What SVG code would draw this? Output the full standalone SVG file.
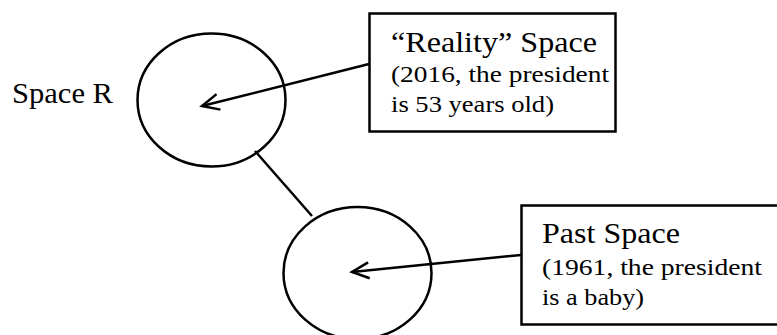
<svg xmlns="http://www.w3.org/2000/svg" width="777" height="335" viewBox="0 0 777 335">
<defs>
<style>
.shape{fill:none;stroke:#000;stroke-width:2.5}
.box{fill:#fff;stroke:#000;stroke-width:2.5}
.conn{fill:none;stroke:#000;stroke-width:2.5}
text{font-family:"Liberation Serif","DejaVu Serif","Times New Roman",serif;fill:#000}
.h{font-size:30px}
.s{font-size:24px}
</style>
<marker id="arr" refX="0" refY="0" markerWidth="20" markerHeight="20" markerUnits="userSpaceOnUse" orient="auto" overflow="visible">
<path d="M-17,-8 L0,0 L-17,8" fill="none" stroke="#000" stroke-width="2.5"/>
</marker>
</defs>
<rect width="777" height="335" fill="#fff"/>
<g id="spaceR-label"><text class="h" x="12" y="103" textLength="101" lengthAdjust="spacingAndGlyphs">Space R</text></g>
<g id="spaceR"><ellipse class="shape" cx="211.5" cy="100" rx="74" ry="66.5"/></g>
<g id="past"><ellipse class="shape" cx="357.5" cy="273" rx="74" ry="66"/></g>
<g id="reality-box">
<rect class="box" x="369.5" y="13.5" width="246" height="118"/>
<text class="h" x="391" y="52" textLength="206" lengthAdjust="spacingAndGlyphs">“Reality” Space</text>
<text class="s" x="391" y="82" textLength="218" lengthAdjust="spacingAndGlyphs">(2016, the president</text>
<text class="s" x="391" y="112" textLength="163" lengthAdjust="spacingAndGlyphs">is 53 years old)</text>
</g>
<g id="past-box">
<rect class="box" x="521.5" y="205.5" width="260" height="119"/>
<text class="h" x="542" y="243" textLength="138" lengthAdjust="spacingAndGlyphs">Past Space</text>
<text class="s" x="542" y="275" textLength="220" lengthAdjust="spacingAndGlyphs">(1961, the president</text>
<text class="s" x="542" y="305" textLength="102" lengthAdjust="spacingAndGlyphs">is a baby)</text>
</g>
<g id="connectors">
<line class="conn" x1="255" y1="151" x2="312" y2="216"/>
<path class="conn" d="M369,64 L202,106" marker-end="url(#arr)"/>
<path class="conn" d="M521,255 L352,272" marker-end="url(#arr)"/>
</g>
</svg>
